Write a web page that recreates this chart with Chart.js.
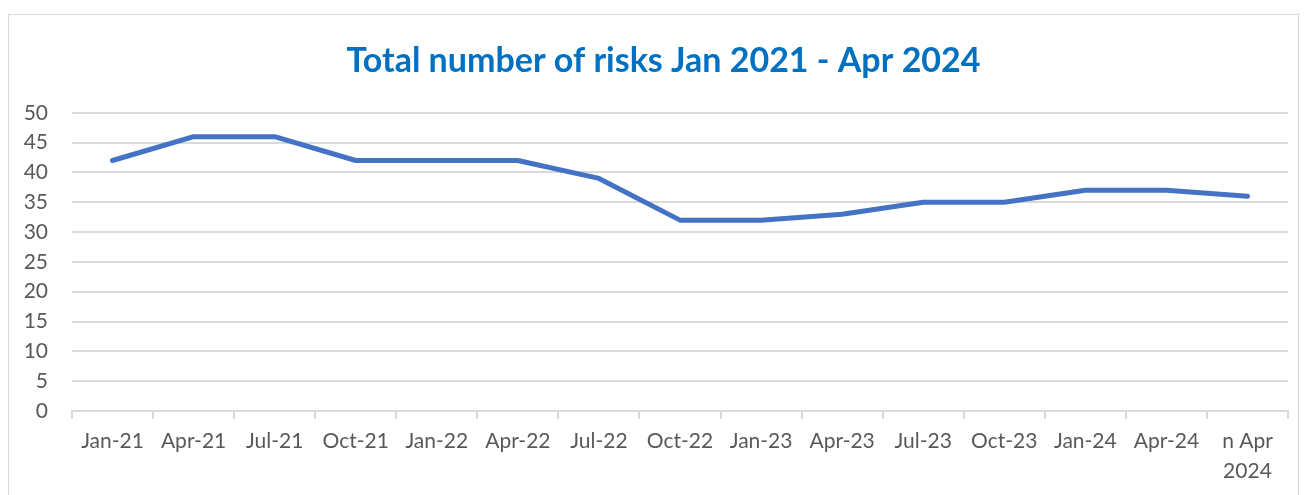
<!DOCTYPE html>
<html>
<head>
<meta charset="utf-8">
<script src="https://cdn.jsdelivr.net/npm/chart.js@4"></script>
<style>
html,body{margin:0;padding:0;background:#fff;overflow:hidden;}
#box{position:absolute;left:8px;top:14px;width:1289px;height:490px;border:1px solid #d9d9d9;box-sizing:content-box;}
#box canvas{display:block;}
</style>
</head>
<body>
<div id="box"><canvas id="c"></canvas></div>
<script>
const categories = ['Jan-21','Apr-21','Jul-21','Oct-21','Jan-22','Apr-22','Jul-22','Oct-22','Jan-23','Apr-23','Jul-23','Oct-23','Jan-24','Apr-24',['n Apr','2024']];
const riskCounts = [42,46,46,42,42,42,39,32,32,33,35,35,37,37,36];
const titleText = 'Total number of risks Jan 2021 - Apr 2024';

const fontFam = "Lato,'Open Sans',sans-serif";
const titleShift = {
  id: 'titleShift',
  afterLayout(chart) {
    const t = chart.titleBlock;
    if (t) { t.left += 30; t.width = t.right - t.left; }
  }
};
new Chart(document.getElementById('c'), {
  type: 'line',
  data: {
    labels: categories,
    datasets: [{
      data: riskCounts,
      borderColor: '#4472C4',
      borderWidth: 5,
      pointRadius: 0,
      borderCapStyle: 'round',
      borderJoinStyle: 'round',
      tension: 0
    }]
  },
  options: {
    responsive: true,
    maintainAspectRatio: false,
    animation: false,
    layout: {padding: {left: 0, right: 10, top: 0, bottom: 0}},
    plugins: {
      legend: {display: false},
      tooltip: {enabled: false},
      title: {
        display: true,
        text: titleText,
        color: '#0070C0',
        font: {family: fontFam, size: 34, weight: 'bold'},
        padding: {top: 26, bottom: 31}
      }
    },
    scales: {
      x: {
        offset: true,
        grid: {display: true, drawOnChartArea: false, offset: true, color: '#d9d9d9', lineWidth: 2, tickLength: 8},
        border: {display: true, color: '#d9d9d9', width: 2},
        ticks: {color: '#595959', font: {family: fontFam, size: 21, lineHeight: 1.45}, maxRotation: 0, autoSkip: false, padding: 7},
        afterFit: s => { s.height = 94; }
      },
      y: {
        min: 0, max: 50,
        ticks: {stepSize: 5, color: '#595959', font: {family: fontFam, size: 21}, padding: 24},
        grid: {color: '#d9d9d9', lineWidth: 2, drawTicks: false},
        border: {display: false},
        afterFit: s => { s.width = 63; }
      }
    }
  },
  plugins: [titleShift]
});
</script>
</body>
</html>
